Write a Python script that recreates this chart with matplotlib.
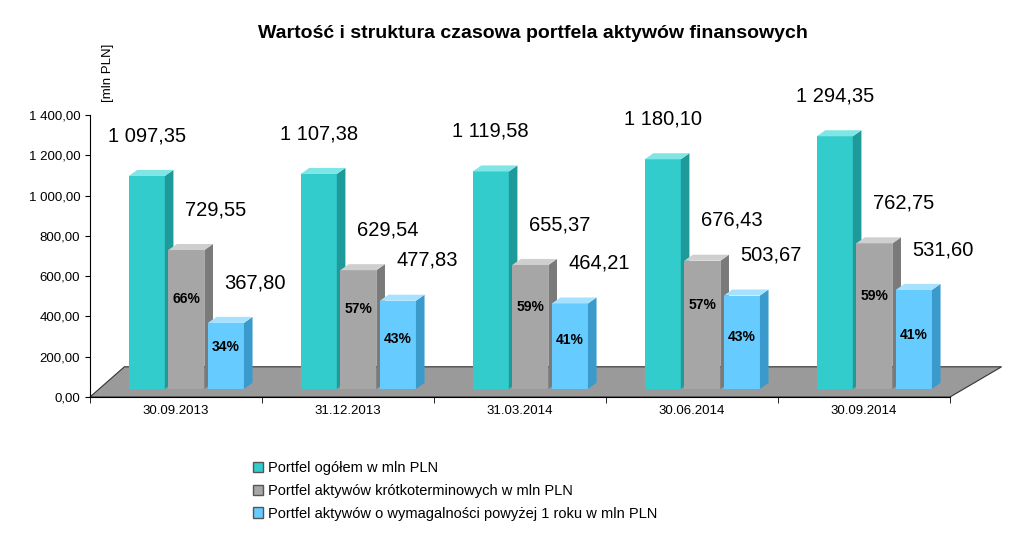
import matplotlib.pyplot as plt
from matplotlib.patches import Polygon, Patch

plt.rcParams['font.family'] = 'Liberation Sans'

dates = ['30.09.2013', '31.12.2013', '31.03.2014', '30.06.2014', '30.09.2014']
total = [1097.35, 1107.38, 1119.58, 1180.10, 1294.35]
short = [729.55, 629.54, 655.37, 676.43, 762.75]
longer = [367.80, 477.83, 464.21, 503.67, 531.60]
short_pct = ['66%', '57%', '59%', '57%', '59%']
long_pct = ['34%', '43%', '41%', '43%', '41%']
legend_labels = ['Portfel ogółem w mln PLN',
                 'Portfel aktywów krótkoterminowych w mln PLN',
                 'Portfel aktywów o wymagalności powyżej 1 roku w mln PLN']

def fmt(v):
    s = f'{v:,.2f}'
    return s.replace(',', ' ').replace('.', ',')

fig = plt.figure(figsize=(10.24, 5.58), dpi=100)
ax = fig.add_axes([90 / 1024, 161 / 558, 860 / 1024, 282 / 558])
ax.set_xlim(0, 5)
ax.set_ylim(0, 1400)

# floor
floor = Polygon([(0, 0), (5, 0), (5.3, 150), (0.2, 150)], closed=True,
                facecolor='#9a9a9a', edgecolor='#333333', lw=0.8,
                clip_on=False, zorder=1)
ax.add_patch(floor)

w = 0.21
dx, dy = 0.05, 30
series = [
    (total, 0.33, '#33CCCC', '#1f9a9a', '#7fe5e5'),
    (short, 0.56, '#A6A6A6', '#7a7a7a', '#cfcfcf'),
    (longer, 0.79, '#66CCFF', '#3a9acc', '#a6e2ff'),
]
for k, (vals, off, c, cs, ct) in enumerate(series):
    for i, v in enumerate(vals):
        x0 = i + off - w / 2
        b = 40
        z = 3 + k
        ax.add_patch(Polygon([(x0, b), (x0 + w, b), (x0 + w, v), (x0, v)],
                             facecolor=c, edgecolor='none', zorder=z, clip_on=False))
        ax.add_patch(Polygon([(x0 + w, b), (x0 + w + dx, b + dy), (x0 + w + dx, v + dy), (x0 + w, v)],
                             facecolor=cs, edgecolor='none', zorder=z, clip_on=False))
        ax.add_patch(Polygon([(x0, v), (x0 + w, v), (x0 + w + dx, v + dy), (x0 + dx, v + dy)],
                             facecolor=ct, edgecolor='none', zorder=z, clip_on=False))
        lx = i + off + (0.0 if k == 0 else 0.17)
        ax.text(lx, v + 200, fmt(v), ha='center', va='center', fontsize=14.5, zorder=10)

for i in range(5):
    ax.text(i + 0.56, 0.5 * short[i] + 120, short_pct[i], ha='center', va='center',
            fontsize=10, fontweight='bold', zorder=10)
    ax.text(i + 0.79, 0.35 * longer[i] + 120, long_pct[i], ha='center', va='center',
            fontsize=10, fontweight='bold', zorder=10)

ax.set_yticks(range(0, 1401, 200))
ax.set_yticklabels([fmt(t) for t in range(0, 1401, 200)], fontsize=9.5)
ax.set_xticks([i + 0.5 for i in range(5)])
ax.set_xticklabels(dates, fontsize=9.5)
ax.set_xticks(range(6), minor=True)
ax.tick_params(axis='x', which='major', length=0, pad=6)
ax.tick_params(axis='x', which='minor', length=4)
for s in ['top', 'right']:
    ax.spines[s].set_visible(False)
ax.set_facecolor('none')

fig.text(0.52, 0.94, 'Wartość i struktura czasowa portfela aktywów finansowych',
         ha='center', va='center', fontsize=14, fontweight='bold')
fig.text(0.105, 0.87, '[mln PLN]', rotation=90, ha='center', va='center', fontsize=9.5)

handles = [Patch(facecolor=c, edgecolor='#555555') for c in ['#33CCCC', '#A6A6A6', '#66CCFF']]
fig.legend(handles, legend_labels, loc='upper left', bbox_to_anchor=(240 / 1024, 1 - 448 / 558),
           frameon=False, fontsize=10.5, handlelength=0.7, handleheight=0.7,
           handletextpad=0.3, labelspacing=0.6)

fig.savefig('out.png', dpi=100)
